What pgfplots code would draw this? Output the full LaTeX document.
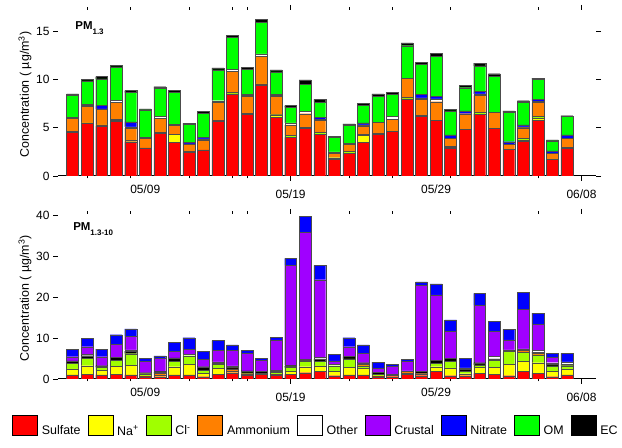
\documentclass[border=0pt]{standalone}
\usepackage{pgfplots}
\pgfplotsset{compat=1.18}
\usepackage{pgfplotstable}
\usepackage{fontspec}
\setmainfont{Liberation Sans}

\definecolor{cSul}{RGB}{255,0,0}
\definecolor{cNa}{RGB}{255,255,0}
\definecolor{cCl}{RGB}{160,255,0}
\definecolor{cAmm}{RGB}{255,128,0}
\definecolor{cOth}{RGB}{255,255,255}
\definecolor{cCru}{RGB}{160,0,255}
\definecolor{cNit}{RGB}{0,0,255}
\definecolor{cOM}{RGB}{0,255,0}
\definecolor{cEC}{RGB}{0,0,0}

% PM1.3 : day 0 = 05/04
\pgfplotstableread{
day sul na cl amm oth nit om ec
0 4.5 0 0.15 1.3 0.15 0 2.25 0.15
1 5.45 0 0.05 1.7 0.1 0.15 2.4 0.15
2 5.2 0 0.1 1.65 0 0.35 2.75 0.25
3 5.65 0.1 0.1 1.75 0.25 0 3.45 0.15
4 3.55 0 0.15 1.25 0.15 0.5 3.05 0.2
5 2.9 0 0 1.0 0.1 0 2.85 0.1
6 4.4 0 0.1 1.5 0.15 0 2.9 0.2
7 3.5 0.8 0 0.95 0.1 0 3.35 0.2
8 2.45 0 0.12 0.75 0 0.2 1.8 0.13
9 2.7 0 0 1.05 0.1 0.15 2.5 0.2
10 5.7 0 0.1 1.85 0.15 0 3.2 0.2
11 8.5 0 0.15 2.2 0.2 0 3.35 0.2
12 6.4 0 0.1 1.75 0.1 0.1 2.6 0.2
13 9.45 0 0.1 2.85 0.25 0 3.25 0.3
14 6.05 0.3 0.05 1.85 0.1 0.1 2.35 0.2
15 4.0 0 0.2 1.1 0.2 0 1.6 0.2
16 4.95 0 0.1 1.4 0.25 0 2.8 0.45
17 4.35 0 0.15 1.3 0.05 0.2 1.6 0.3
18 1.75 0 0.15 0.45 0.15 0 1.5 0.1
19 2.35 0 0.2 0.7 0.15 0 1.85 0.15
20 3.5 0.7 0.15 0.85 0.1 0.2 1.8 0.2
21 4.3 0 0.1 1.15 0 0 2.7 0.25
22 4.6 0 0 1.3 0.25 0 2.3 0.25
23 8.0 0 0.15 2.0 0 0 3.35 0.3
24 6.15 0 0.15 1.65 0.15 0.35 3.1 0.2
25 5.8 0 0 1.9 0.3 0.25 4.15 0.3
26 2.85 0.1 0.15 0.8 0 0.35 2.5 0.15
27 4.85 0 0 1.6 0 0.3 2.4 0.25
28 6.4 0 0.25 1.7 0.15 0.25 2.65 0.3
29 4.95 0 0 1.65 0 0 3.75 0.25
30 2.75 0 0 0.55 0 0.25 3.05 0.15
31 3.6 0.1 0.2 1.1 0.1 0.2 2.35 0.15
32 5.8 0.2 0.2 1.4 0.15 0.2 2.05 0.15
33 1.75 0 0 0.6 0 0.25 1.05 0.1
34 2.85 0 0.15 0.9 0 0.35 1.9 0.1
}\topdata

% PM1.3-10
\pgfplotstableread{
day sul na cl amm ec oth cru nit
0 1.0 1.45 1.4 0 0.6 0 1.0 1.85
1 1.15 2.1 1.8 0 0.65 0.3 1.9 2.05
2 1.0 1.2 0.65 0 0.4 0 2.2 1.85
3 1.15 1.9 1.5 0 0.8 0 3.2 2.3
4 1.0 2.3 2.9 0 0.6 0.35 3.3 1.85
5 0.55 0.2 0.55 0 0.25 0 2.7 0.8
6 0.55 0.4 0 0.4 0.4 0.2 3.05 0.65
7 1.0 2.0 1.4 0 0.8 0 1.5 2.3
8 1.0 2.6 2.1 0 0 0.3 1.3 2.8
9 0.55 0.85 0.7 0 0.9 0 1.8 1.9
10 1.15 1.45 1.05 0.2 0 0.35 2.75 2.45
11 1.55 0.3 0 0.6 0.35 0.4 3.75 1.4
12 1.0 0.3 0.2 0 0.5 0 4.3 0.65
13 1.15 0 0 0.25 0.4 0 2.85 0.4
14 1.0 0.2 0.4 0.2 0 0.4 7.35 0.65
15 1.15 0.65 1.0 0 0.4 0.2 24.5 1.65
16 1.55 1.45 1.4 0.2 0 0.15 31.2 3.85
17 1.8 1.4 1.2 0 0.5 0.4 19.0 3.5
18 0.8 1.15 1.3 0 0 0.3 0.9 1.55
19 1.0 1.8 2.1 0 0.6 0 2.4 2.2
20 1.0 1.6 0.6 0.4 0.4 0 2.3 2.05
21 0.55 0.2 0.4 0 0.5 0 1.0 1.5
22 0.55 0 0 0.3 0.3 0 1.9 0.55
23 1.15 0.3 0 0.35 0 0.2 2.25 0.55
24 0.8 0 0 0.5 0.5 0 21.2 0.8
25 1.8 1.2 0.85 0 0.75 0 16.0 2.7
26 0.8 1.9 1.65 0 0.7 0 6.7 2.7
27 0.8 0.5 0.6 0 0.5 0.3 0 2.3
28 1.4 1.45 0.6 0 0.55 0 14.1 2.85
29 1.2 1.65 1.7 0 0.35 0.6 6.25 2.3
30 0.8 2.8 3.1 0 0 0.4 2.45 2.6
31 1.8 2.45 2.3 0.4 0 0.4 9.7 4.15
32 1.4 2.6 1.9 0.4 0.3 0.4 6.35 2.75
33 0.55 1.25 1.4 0 0.4 0.4 1.3 1.0
34 1.0 1.45 0.8 0 0.3 0.65 0 2.05
}\botdata

\pgfplotsset{
  chart/.style={
    scale only axis, width=538bp,
    xmin=-1, xmax=36,
    ybar stacked, bar width=0.82,
    axis line style={draw=none},
    tick align=outside,
    major tick length=5bp, minor tick length=2.5bp,
    tick style={black, line width=0.6bp},
    xtick={15,35}, xticklabels={05/19,06/08},
    extra x ticks={5,25}, extra x tick labels={05/09,05/29},
    extra x tick style={major tick length=0pt},
    minor xtick={1,4,8,11,12,19,22,26,32},
    ticklabel style={font=\fontsize{12}{14}\selectfont},
    xticklabel style={yshift=-5bp},
    /pgf/number format/assume math mode=true,
    every axis y label/.style={at={(axis description cs:-0.0613,0.49)}, rotate=90, anchor=center, font=\fontsize{12.5}{14}\selectfont},
    ylabel={Concentration ( µg/m\textsuperscript{3})},
  },
  seg/.style={fill=#1, draw=black!70, line width=0.3bp},
}

\begin{document}
\begin{tikzpicture}[x=1bp,y=1bp]
\useasboundingbox (0,0) rectangle (622,448);
\begin{axis}[chart,
  at={(58bp,272bp)}, anchor=south west, height=166bp,
  ymin=0, ymax=17.2, ytick={0,5,10,15},
]
\addplot[seg=cSul] table[x=day,y=sul]{\topdata};
\addplot[seg=cNa] table[x=day,y=na]{\topdata};
\addplot[seg=cCl] table[x=day,y=cl]{\topdata};
\addplot[seg=cAmm] table[x=day,y=amm]{\topdata};
\addplot[seg=cOth] table[x=day,y=oth]{\topdata};
\addplot[seg=cNit] table[x=day,y=nit]{\topdata};
\addplot[seg=cOM] table[x=day,y=om]{\topdata};
\addplot[seg=cEC] table[x=day,y=ec]{\topdata};
\draw[line width=1bp] (rel axis cs:0,0) -- (rel axis cs:1,0);
\node[anchor=base west, font=\bfseries\fontsize{11.5}{13}\selectfont, inner sep=0pt] at (rel axis cs:0.032,0.88) {PM\raisebox{-5bp}{\fontsize{8}{9}\selectfont 1.3}};
\end{axis}

\begin{axis}[chart,
  at={(58bp,69bp)}, anchor=south west, height=165bp,
  ymin=0, ymax=40.4, ytick={0,10,20,30,40}, ytick pos=left,
  legend columns=9,
  legend style={at={(axis description cs:-0.0855,-0.285)}, anchor=west, draw=none, fill=none,
    font=\fontsize{12.5}{14}\selectfont, inner sep=0pt,
    nodes={inner xsep=2bp, inner ysep=0bp},
    /tikz/every odd column/.append style={column sep=2bp},
    /tikz/every even column/.append style={column sep=5bp}},
  legend image code/.code={\draw[#1, draw=black, line width=0.6bp] (0bp,-4.5bp) rectangle (25bp,15.5bp);},
]
\addplot[seg=cSul, forget plot] table[x=day,y=sul]{\botdata};
\addplot[seg=cNa, forget plot] table[x=day,y=na]{\botdata};
\addplot[seg=cCl, forget plot] table[x=day,y=cl]{\botdata};
\addplot[seg=cAmm, forget plot] table[x=day,y=amm]{\botdata};
\addplot[seg=cEC, forget plot] table[x=day,y=ec]{\botdata};
\addplot[seg=cOth, forget plot] table[x=day,y=oth]{\botdata};
\addplot[seg=cCru, forget plot] table[x=day,y=cru]{\botdata};
\addplot[seg=cNit, forget plot] table[x=day,y=nit]{\botdata};
\draw[line width=1bp] (rel axis cs:0,0) -- (rel axis cs:1,0);
\node[anchor=base west, font=\bfseries\fontsize{11.5}{13}\selectfont, inner sep=0pt] at (rel axis cs:0.028,0.897) {PM\raisebox{-5bp}{\fontsize{8}{9}\selectfont 1.3-10}};
\addlegendimage{fill=cSul}\addlegendentry{Sulfate}
\addlegendimage{fill=cNa}\addlegendentry{Na\textsuperscript{+}}
\addlegendimage{fill=cCl}\addlegendentry{Cl\textsuperscript{-}}
\addlegendimage{fill=cAmm}\addlegendentry{Ammonium}
\addlegendimage{fill=cOth}\addlegendentry{Other}
\addlegendimage{fill=cCru}\addlegendentry{Crustal}
\addlegendimage{fill=cNit}\addlegendentry{Nitrate}
\addlegendimage{fill=cOM}\addlegendentry{OM}
\addlegendimage{fill=cEC}\addlegendentry{EC}
\end{axis}
\end{tikzpicture}
\end{document}
